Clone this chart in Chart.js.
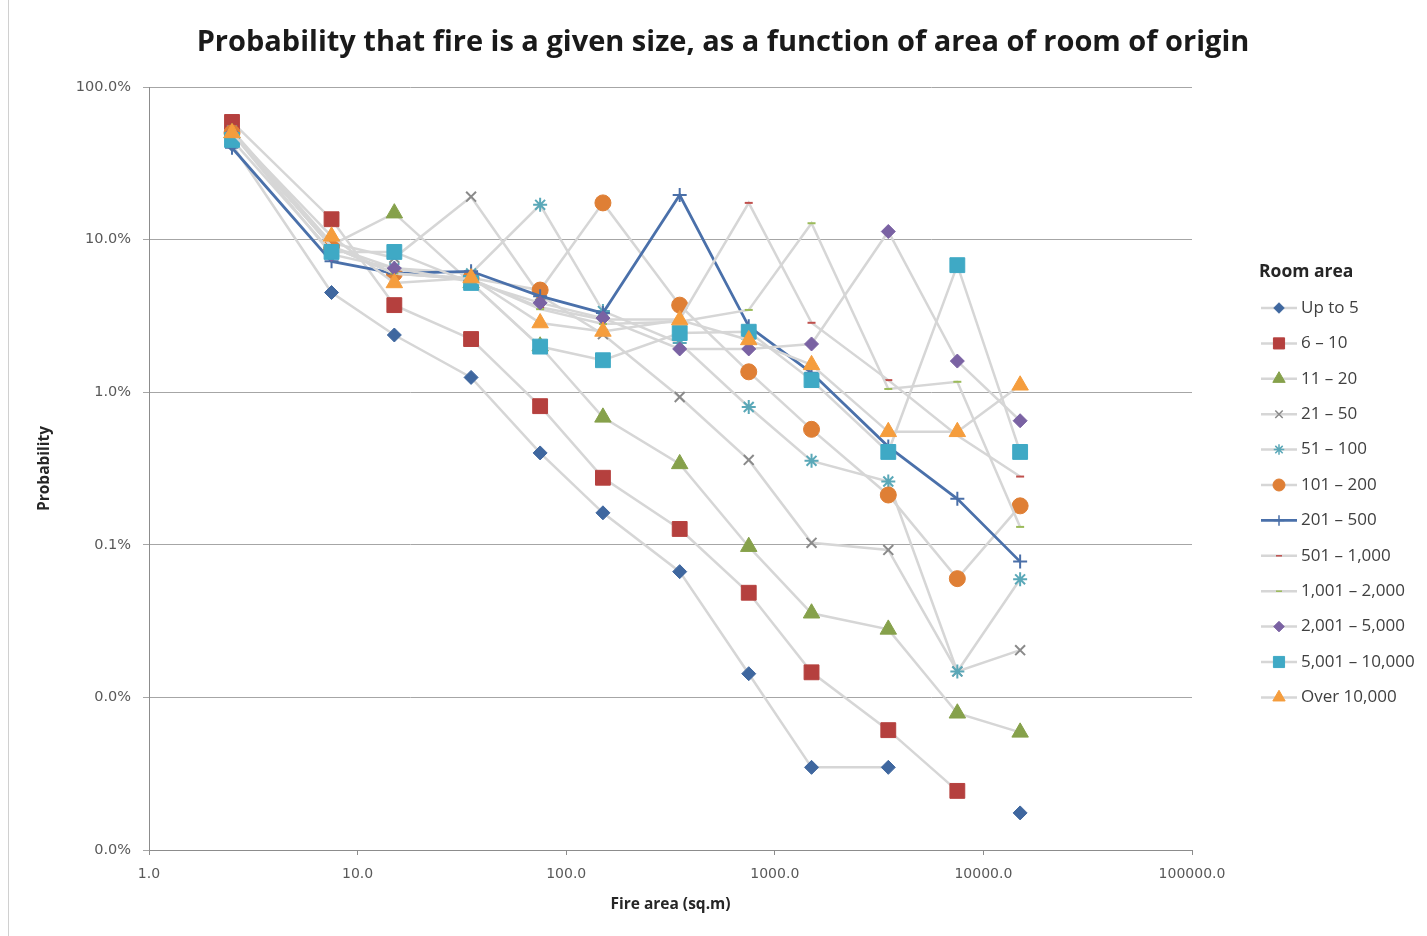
<!DOCTYPE html>
<html>
<head>
<meta charset="utf-8">
<script src="https://cdn.jsdelivr.net/npm/chart.js@4.4.1/dist/chart.umd.min.js"></script>
<style>
  html, body { margin: 0; padding: 0; background: #fff; }
  canvas { display: block; }
</style>
</head>
<body>
<canvas id="chart" width="1427" height="936"></canvas>
<script>
// fire area (sq.m) of each point, x axis
const fireArea = [2.5, 7.5, 15, 35, 75, 150, 350, 750, 1500, 3500, 7500, 15000];

// probability in %, one array per room area band (null = no point)
const upTo5      = [42, 4.5, 2.37, 1.25, 0.40, 0.162, 0.0667, 0.0143, 0.00348, 0.00348, null, 0.00175];
const r6to10     = [59, 13.6, 3.72, 2.23, 0.81, 0.275, 0.127, 0.0485, 0.0146, 0.0061, 0.00244, null];
const r11to20    = [50, 9.2, 14.9, 5.2, 2.0, 0.684, 0.339, 0.0972, 0.0356, 0.0279, 0.00787, 0.0059];
const r21to50    = [52, 9.5, 7.6, 19.1, 4.3, 2.4, 0.93, 0.36, 0.103, 0.0925, 0.0148, 0.0204];
const r51to100   = [50, 9, 6.5, 6.0, 16.9, 3.4, 2.1, 0.80, 0.355, 0.26, 0.0148, 0.0594];
const r101to200  = [50, 9, 6, 5.6, 4.67, 17.4, 3.72, 1.36, 0.571, 0.212, 0.06, 0.18];
const r201to500  = [40, 7.2, 6.0, 6.2, 4.26, 3.3, 19.6, 2.7, 1.34, 0.44, 0.20, 0.0776];
const r501to1000 = [50, 9, 6, 5.5, 3.6, 3.0, 3.0, 17.4, 2.85, 1.2, 0.52, 0.28];
const r1001to2000 = [50, 9, 6, 5.5, 3.5, 2.8, 2.9, 3.46, 12.8, 1.05, 1.17, 0.131];
const r2001to5000 = [50, 8, 6.5, 5.3, 3.85, 3.06, 1.92, 1.92, 2.07, 11.3, 1.6, 0.65];
const r5001to10000 = [45, 8.3, 8.3, 5.2, 1.99, 1.62, 2.44, 2.49, 1.2, 0.406, 6.8, 0.406];
const over10000  = [50, 10.5, 5.2, 5.6, 2.84, 2.5, 2.97, 2.2, 1.51, 0.55, 0.55, 1.11];

const seriesNames = ['Up to 5', '6 – 10', '11 – 20', '21 – 50', '51 – 100', '101 – 200', '201 – 500',
  '501 – 1,000', '1,001 – 2,000', '2,001 – 5,000', '5,001 – 10,000', 'Over 10,000'];
const seriesValues = [upTo5, r6to10, r11to20, r21to50, r51to100, r101to200, r201to500,
  r501to1000, r1001to2000, r2001to5000, r5001to10000, over10000];

const xTickValues = [1, 10, 100, 1000, 10000, 100000];
const xTickLabels = ['1.0', '10.0', '100.0', '1000.0', '10000.0', '100000.0'];
const yTickValues = [100, 10, 1, 0.1, 0.01, 0.001];
const yTickLabels = ['100.0%', '10.0%', '1.0%', '0.1%', '0.0%', '0.0%'];

const chartTitle = 'Probability that fire is a given size, as a function of area of room of origin';
const legendTitle = 'Room area';

// marker look per series (Excel style)
const markers = [
  { shape: 'rectRot', color: '#3f679f', r: 7 },
  { shape: 'rect', color: '#b5403e', r: 10.5 },
  { shape: 'triangle', color: '#86a14b', r: 9.5 },
  { shape: 'crossRot', color: '#8a8a8a', r: 7, stroke: true },
  { shape: 'star', color: '#5aa8b8', r: 7, stroke: true },
  { shape: 'circle', color: '#df7f35', r: 8 },
  { shape: 'cross', color: '#4a6fa8', r: 7, stroke: true },
  { shape: 'line', color: '#c0504d', r: 4, stroke: true },
  { shape: 'line', color: '#9bbb59', r: 4, stroke: true },
  { shape: 'rectRot', color: '#7a62a3', r: 7 },
  { shape: 'rect', color: '#3fa9c5', r: 10.5 },
  { shape: 'triangle', color: '#f59d3d', r: 9.5 },
];
const BLUE_LINE = 6;
const FONT = '"Open Sans", Lato, sans-serif';
const TICK_FONT = '"DejaVu Sans", "Open Sans", sans-serif';

const datasets = seriesNames.map((name, i) => ({
  label: name,
  data: fireArea.map((x, j) => ({ x: x, y: seriesValues[i][j] })),
  borderColor: i === BLUE_LINE ? '#4a70aa' : '#d6d6d6',
  borderWidth: i === BLUE_LINE ? 2.75 : 2.5,
  pointStyle: markers[i].shape,
  pointRadius: markers[i].r,
  pointHoverRadius: markers[i].r,
  pointBackgroundColor: markers[i].color,
  pointBorderColor: markers[i].color,
  pointBorderWidth: markers[i].stroke ? 2 : 1,
  tension: 0,
  spanGaps: false,
  order: seriesNames.length - i
}));

// title + legend drawn like the Excel ones
const decorations = {
  id: 'decorations',
  beforeDraw(chart) {
    const ctx = chart.ctx;
    ctx.save();
    ctx.fillStyle = '#fff';
    ctx.fillRect(0, 0, chart.width, chart.height);
    ctx.strokeStyle = '#d0d0d0';
    ctx.lineWidth = 1;
    ctx.beginPath();
    ctx.moveTo(8.5, 0);
    ctx.lineTo(8.5, chart.height);
    ctx.stroke();
    ctx.restore();
  },
  afterDraw(chart) {
    const ctx = chart.ctx;
    ctx.save();
    ctx.textBaseline = 'middle';
    ctx.textAlign = 'center';
    ctx.fillStyle = '#1a1a1a';
    ctx.font = 'bold 29px ' + FONT;
    ctx.fillText(chartTitle, 723, 43);

    ctx.textAlign = 'left';
    ctx.fillStyle = '#262626';
    ctx.font = 'bold 17.5px ' + FONT;
    ctx.fillText(legendTitle, 1259, 272);
    ctx.font = '17px ' + FONT;
    chart.data.datasets.forEach((ds, i) => {
      const y = 308 + i * 35.4;
      ctx.strokeStyle = ds.borderColor;
      ctx.lineWidth = ds.borderWidth;
      ctx.beginPath();
      ctx.moveTo(1261, y);
      ctx.lineTo(1297, y);
      ctx.stroke();
      const m = markers[i];
      ctx.fillStyle = m.color;
      ctx.strokeStyle = m.color;
      ctx.lineWidth = m.stroke ? 1.5 : 1;
      if (Chart.helpers && Chart.helpers.drawPoint) {
        Chart.helpers.drawPoint(ctx, { pointStyle: m.shape, radius: m.r * 0.75, borderWidth: ctx.lineWidth, rotation: 0 }, 1279, y);
      }
      ctx.fillStyle = '#404040';
      ctx.fillText(ds.label, 1301, y);
    });
    ctx.restore();
  }
};

new Chart(document.getElementById('chart'), {
  type: 'line',
  data: { datasets: datasets },
  options: {
    responsive: false,
    animation: false,
    layout: { padding: { left: 0, right: 235, top: 87, bottom: 0 } },
    plugins: {
      legend: { display: false },
      tooltip: { enabled: false },
      title: { display: false }
    },
    scales: {
      x: {
        type: 'logarithmic',
        min: 1,
        max: 100000,
        afterBuildTicks: s => { s.ticks = xTickValues.map(v => ({ value: v })); },
        afterFit: s => { s.height = 86; },
        ticks: {
          autoSkip: false,
          maxRotation: 0,
          padding: 11,
          color: '#595959',
          font: { family: TICK_FONT, size: 14 },
          callback: (v, idx) => xTickLabels[idx]
        },
        grid: { drawOnChartArea: false, drawTicks: true, tickLength: 5, color: '#8c8c8c' },
        border: { color: '#8c8c8c' },
        title: {
          display: true,
          text: 'Fire area (sq.m)',
          color: '#262626',
          font: { family: FONT, size: 15.5, weight: 'bold' },
          padding: { top: 0, bottom: 22 }
        }
      },
      y: {
        type: 'logarithmic',
        min: 0.001,
        max: 100,
        afterBuildTicks: s => { s.ticks = yTickValues.map(v => ({ value: v })); },
        afterFit: s => { s.width = 149; },
        ticks: {
          autoSkip: false,
          padding: 12,
          color: '#595959',
          font: { family: TICK_FONT, size: 14.5 },
          callback: (v, idx) => yTickLabels[idx]
        },
        grid: { color: '#a6a6a6', drawTicks: true, tickLength: 6 },
        border: { color: '#8c8c8c' },
        title: {
          display: true,
          text: 'Probability',
          color: '#262626',
          font: { family: FONT, size: 15.5, weight: 'bold' },
          padding: { top: 35, bottom: 0 }
        }
      }
    }
  },
  plugins: [decorations]
});
</script>
</body>
</html>
